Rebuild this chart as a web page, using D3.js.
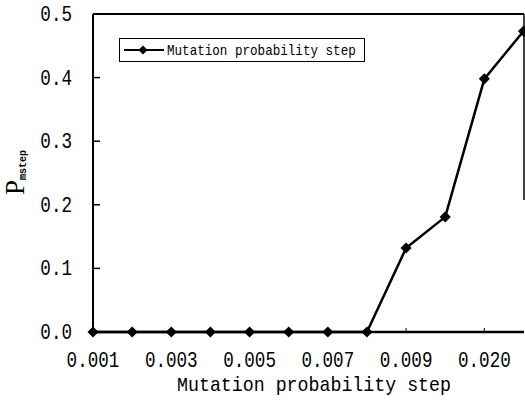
<!DOCTYPE html>
<html>
<head>
<meta charset="utf-8">
<script src="https://cdn.jsdelivr.net/npm/d3@7"></script>
<style>
  html, body { margin: 0; padding: 0; background: #fff; }
  svg { display: block; }
  text { font-family: "Liberation Mono", "DejaVu Sans Mono", monospace; fill: #000; }
</style>
</head>
<body>
<svg id="chart" width="525" height="407"></svg>
<script>
// Mutation probability step settings and the resulting P_mstep
const steps = ["0.001", "0.002", "0.003", "0.004", "0.005", "0.006",
               "0.007", "0.008", "0.009", "0.010", "0.020", "0.030"];
const pMstep = [0, 0, 0, 0, 0, 0, 0, 0, 0.132, 0.181, 0.398, 0.473];
const xTickLabels = ["0.001", "0.003", "0.005", "0.007", "0.009", "0.020"];
const yTicks = [0, 0.1, 0.2, 0.3, 0.4, 0.5];
const seriesName = "Mutation probability step";

const svg = d3.select("#chart");
const plotL = 93, plotR = 524, plotT = 14, plotB = 332;

const x = d3.scalePoint().domain(steps).range([plotL, 523.5]);
const y = d3.scaleLinear().domain([0, 0.5]).range([plotB, plotT]);

// frame
const frame = svg.append("g").attr("stroke", "#000").attr("fill", "none");
frame.append("line").attr("x1", plotL).attr("x2", plotL).attr("y1", plotT).attr("y2", plotB).attr("stroke-width", 2);
frame.append("line").attr("x1", plotL).attr("x2", plotR).attr("y1", plotT).attr("y2", plotT).attr("stroke-width", 2);
frame.append("line").attr("x1", plotR).attr("x2", plotR).attr("y1", plotT).attr("y2", 200).attr("stroke-width", 1.5);
frame.append("line").attr("x1", plotL).attr("x2", plotR).attr("y1", plotB).attr("y2", plotB).attr("stroke-width", 2.5);

// y axis: inward ticks, labels on the left
const yAxis = svg.append("g");
yAxis.selectAll("line").data(yTicks).join("line")
  .attr("x1", plotL).attr("x2", plotL + 7)
  .attr("y1", d => y(d)).attr("y2", d => y(d))
  .attr("stroke", "#000").attr("stroke-width", 1.5);
yAxis.selectAll("text").data(yTicks).join("text")
  .attr("transform", d => `translate(72,${y(d) + 7}) scale(0.8,1)`)
  .attr("text-anchor", "end")
  .style("font-size", "22px")
  .text(d => d3.format(".1f")(d));

// x axis: small inward ticks at labelled steps
const xAxis = svg.append("g");
xAxis.selectAll("line").data(xTickLabels).join("line")
  .attr("x1", d => x(d)).attr("x2", d => x(d))
  .attr("y1", plotB).attr("y2", plotB - 4)
  .attr("stroke", "#000").attr("stroke-width", 1);
xAxis.selectAll("text").data(xTickLabels).join("text")
  .attr("transform", d => `translate(${x(d)},367) scale(0.8,1)`)
  .attr("text-anchor", "middle")
  .style("font-size", "22px")
  .text(d => d);

// axis titles
svg.append("text")
  .attr("transform", "translate(314,391) scale(0.87,1)")
  .attr("text-anchor", "middle")
  .style("font-size", "21px")
  .text("Mutation probability step");

const yTitle = svg.append("text")
  .attr("transform", "translate(24,195) rotate(-90)")
  .attr("text-anchor", "start");
yTitle.append("tspan").style("font-size", "27px").style("font-family", "Liberation Serif, serif").text("P");
yTitle.append("tspan").style("font-size", "10px").style("font-weight", "bold").attr("dy", 2).text("mstep");

// series
const line = d3.line().x((d, i) => x(steps[i])).y(d => y(d));
svg.append("path").datum(pMstep)
  .attr("d", line)
  .attr("fill", "none").attr("stroke", "#000").attr("stroke-width", 2.5);

// square markers turned 45 degrees
const marker = d3.symbol().type(d3.symbolSquare).size(62);
svg.append("g").selectAll("path").data(pMstep).join("path")
  .attr("transform", (d, i) => `translate(${x(steps[i])},${y(d)}) rotate(45)`)
  .attr("d", marker)
  .attr("fill", "#000");

// legend
const lg = svg.append("g");
lg.append("rect").attr("x", 119.5).attr("y", 38.5).attr("width", 245).attr("height", 23)
  .attr("fill", "#fff").attr("stroke", "#000").attr("stroke-width", 1);
lg.append("line").attr("x1", 124).attr("x2", 164).attr("y1", 50).attr("y2", 50)
  .attr("stroke", "#000").attr("stroke-width", 2);
lg.append("path").attr("transform", "translate(143,50) rotate(45)")
  .attr("d", d3.symbol().type(d3.symbolSquare).size(42)).attr("fill", "#000");
lg.append("text")
  .attr("transform", "translate(167,55) scale(0.9,1)")
  .style("font-size", "14px")
  .text(seriesName);
</script>
</body>
</html>
